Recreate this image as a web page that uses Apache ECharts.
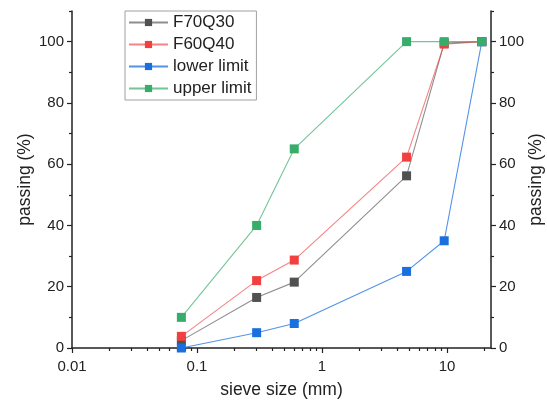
<!DOCTYPE html>
<html>
<head>
<meta charset="utf-8">
<script src="https://cdn.jsdelivr.net/npm/echarts@6.0.0/dist/echarts.min.js"></script>
<style>html,body{margin:0;padding:0;background:#fff}#c{width:547px;height:401px}</style>
</head>
<body>
<div id="c"></div>
<script>
const sieve = [0.075, 0.3, 0.6, 4.75, 9.5, 19];
const seriesNames = ['F70Q30', 'F60Q40', 'lower limit', 'upper limit'];
const f70q30 = [2.4, 16.5, 21.5, 56.2, 99.5, 100];
const f60q40 = [3.8, 22.0, 28.7, 62.3, 99.2, 100];
const lowerLimit = [0, 5, 8, 25, 35, 100];
const upperLimit = [10, 40, 65, 100, 100, 100];
const xMajorTicks = [0.01, 0.1, 1, 10];
const xMinorTicks = [0.02,0.03,0.04,0.05,0.06,0.07,0.08,0.09,0.2,0.3,0.4,0.5,0.6,0.7,0.8,0.9,2,3,4,5,6,7,8,9,20];
const yMajorTicks = [0, 20, 40, 60, 80, 100];
const yMinorTicks = [10, 30, 50, 70, 90, 110];

const markerColors = ['#515151', '#F14040', '#1A6FDF', '#37AD6B'];
const lineColors = ['rgba(81,81,81,0.65)', 'rgba(241,64,64,0.65)', 'rgba(26,111,223,0.75)', 'rgba(55,173,107,0.7)'];
const values = [f70q30, f60q40, lowerLimit, upperLimit];

const font = 'Liberation Sans, Arial, sans-serif';
const axisCol = '#222';

function yAx(pos, major) {
  return {
    type: 'value', position: pos, min: 0, max: 110, interval: 10,
    axisLine: { show: major, lineStyle: { color: axisCol, width: 1.5 } },
    axisTick: { show: true, inside: false, length: major ? 5 : 3, lineStyle: { color: axisCol, width: 1.2 },
      customValues: major ? yMajorTicks : yMinorTicks },
    axisLabel: { show: major, customValues: yMajorTicks, color: '#222', fontSize: 15, fontFamily: font, margin: 8 },
    splitLine: { show: false },
    name: major ? 'passing (%)' : '', nameLocation: 'middle', nameRotate: 90, nameGap: pos === 'left' ? 38 : 36,
    nameMoveOverlap: false,
    nameTextStyle: { color: '#222', fontSize: 17.5, fontFamily: font }
  };
}

const chart = echarts.init(document.getElementById('c'), null, { renderer: 'canvas' });
chart.setOption({
  animation: false,
  backgroundColor: '#fff',
  grid: { left: 72, right: 56, top: 11, bottom: 53, containLabel: false, outerBoundsMode: 'none' },
  legend: {
    orient: 'vertical', left: 125, top: 11,
    backgroundColor: '#fff', borderColor: '#a0a0a0', borderWidth: 1,
    padding: [3, 5, 3, 3], itemGap: 5, itemWidth: 39, itemHeight: 9,
    textStyle: { fontSize: 17, fontFamily: font, color: '#222' },
    data: seriesNames
  },
  xAxis: [
    {
      type: 'log', logBase: 10, min: 0.01, max: 22.5, position: 'bottom',
      axisLine: { show: true, lineStyle: { color: axisCol, width: 1.5 } },
      axisTick: { show: true, length: 5, customValues: xMajorTicks, lineStyle: { color: axisCol, width: 1.2 } },
      axisLabel: { customValues: xMajorTicks, color: '#222', fontSize: 15, fontFamily: font, margin: 11,
        formatter: v => String(+v.toPrecision(3)) },
      splitLine: { show: false }, minorTick: { show: false },
      name: 'sieve size (mm)', nameLocation: 'middle', nameGap: 33, nameMoveOverlap: false,
      nameTextStyle: { color: '#222', fontSize: 17.5, fontFamily: font }
    },
    {
      type: 'log', logBase: 10, min: 0.01, max: 22.5, position: 'bottom', offset: 0,
      axisLine: { show: false },
      axisTick: { show: true, length: 3, customValues: xMinorTicks, lineStyle: { color: axisCol, width: 1.2 } },
      axisLabel: { show: false }, splitLine: { show: false }
    }
  ],
  yAxis: [yAx('left', true), yAx('left', false), yAx('right', true), yAx('right', false)],
  series: seriesNames.map((name, i) => ({
    name, type: 'line', xAxisIndex: 0, yAxisIndex: 0,
    data: sieve.map((x, j) => [x, values[i][j]]),
    symbol: 'rect', symbolSize: 9, showAllSymbol: true, clip: false,
    itemStyle: { color: markerColors[i] },
    lineStyle: { color: lineColors[i], width: 1.1 },
    z: 2 + i
  }))
});
</script>
</body>
</html>
